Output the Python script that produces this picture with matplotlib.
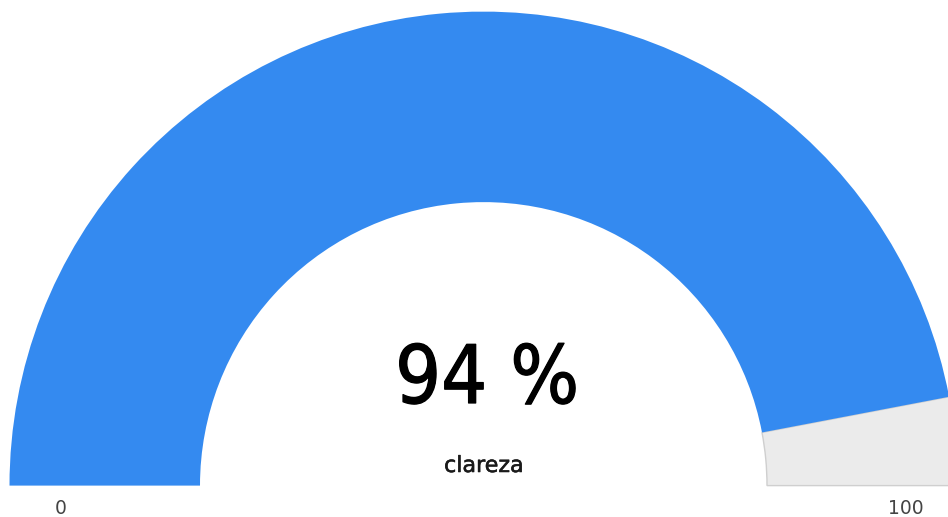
import matplotlib
matplotlib.use("Agg")
import matplotlib.pyplot as plt
from matplotlib.patches import Wedge
import matplotlib.patheffects as pe

value = 94
min_value = 0
max_value = 100
label = "clareza"
tick_labels = ["0", "100"]

W, H = 948, 517
fig = plt.figure(figsize=(W / 100, H / 100), dpi=100)
ax = fig.add_axes([0, 0, 1, 1])
ax.set_xlim(0, W)
ax.set_ylim(0, H)
ax.set_aspect("equal")
ax.axis("off")

cx, cy = 483.5, H - 485.6
r_out, r_in = 474, 283.5
frac = (value - min_value) / (max_value - min_value)
split = 180 - frac * 180

ax.add_patch(Wedge((cx, cy), r_out, 0, split, width=r_out - r_in,
                   facecolor="#ebebeb", edgecolor="#cfcfcf", linewidth=1))
ax.add_patch(Wedge((cx, cy), r_out, split, 180, width=r_out - r_in,
                   facecolor="#348af0", edgecolor="none"))

ax.text(487, H - 381, f"{value} %", ha="center", va="center",
        fontsize=58, color="black", family="DejaVu Sans",
        fontstretch="condensed",
        path_effects=[pe.withStroke(linewidth=0.9, foreground="black")])
ax.text(484, H - 466, label, ha="center", va="center",
        fontsize=16, color="#1a1a1a", family="DejaVu Sans",
        path_effects=[pe.withStroke(linewidth=0.4, foreground="#1a1a1a")])
ax.text(61, H - 508, tick_labels[0], ha="center", va="center",
        fontsize=13.5, color="#444444")
ax.text(906, H - 508, tick_labels[1], ha="center", va="center",
        fontsize=13.5, color="#444444")

fig.savefig("out.png", dpi=100)
